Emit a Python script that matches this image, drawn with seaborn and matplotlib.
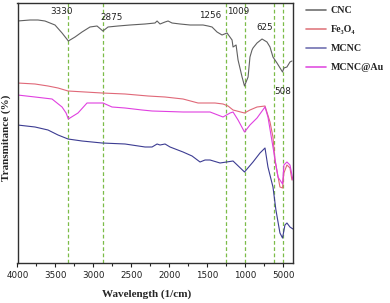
import numpy as np
import pandas as pd
import seaborn as sns
import matplotlib
matplotlib.use("Agg")
import matplotlib.pyplot as plt
from matplotlib.ticker import FixedLocator, MultipleLocator

# FTIR spectra, wavenumber (1/cm) vs transmittance (arbitrary units)
cnc_wn = [4000, 3835, 3730, 3638, 3506, 3413, 3330, 3242, 3150, 3045, 2952, 2875,
          2807, 2675, 2517, 2319, 2188, 2161, 2122, 2056, 2016, 1964, 1858, 1726,
          1555, 1489, 1437, 1371, 1305, 1239, 1173, 1160, 1120, 1094, 1041, 1009,
          962, 937, 910, 897, 844, 778, 713, 673, 634, 581, 508, 490, 450, 410, 384]
cnc_t = [242, 243, 243, 242, 238, 230, 222, 226, 231, 236, 237, 232,
         236, 237, 238, 239, 240, 242, 239, 241, 242, 240, 239, 238,
         238, 237, 236, 231, 228, 230, 223, 216, 218, 203, 186, 177,
         186, 206, 213, 215, 220, 224, 221, 216, 206, 200, 191, 195, 196, 201, 202]

fe_wn = [4000, 3769, 3598, 3466, 3334, 3110, 2886, 2583, 2280, 2056, 1819, 1621,
         1555, 1489, 1398, 1292, 1226, 1160, 1009, 937, 844, 739, 673, 634, 608,
         542, 508, 490, 450, 410, 384]
fe_t = [180, 179, 177, 175, 172, 171, 170, 169, 167, 166, 164, 160,
        160, 160, 160, 159, 157, 153, 150, 153, 156, 157, 141, 126, 103,
        76, 75, 90, 98, 95, 83]

mcnc_wn = [4000, 3769, 3598, 3466, 3334, 3150, 2886, 2583, 2319, 2227, 2161, 2122,
           2056, 1990, 1819, 1700, 1595, 1529, 1463, 1331, 1160, 1009, 897, 805,
           739, 700, 634, 595, 542, 508, 476, 450, 410, 371]
mcnc_t = [138, 136, 133, 128, 124, 122, 120, 119, 116, 116, 119, 118,
          119, 116, 111, 107, 101, 103, 103, 100, 102, 91, 101, 110,
          115, 96, 76, 53, 30, 25, 38, 40, 36, 34]

au_wn = [4000, 3769, 3545, 3413, 3360, 3330, 3203, 3084, 2952, 2873, 2755, 2583,
         2359, 2227, 1819, 1463, 1292, 1199, 1160, 1094, 1009, 937, 844, 739,
         700, 634, 568, 508, 490, 450, 410, 371]
au_t = [168, 166, 164, 156, 150, 144, 150, 160, 160, 160, 156, 155,
        153, 152, 151, 151, 146, 150, 151, 143, 131, 138, 145, 156,
        146, 116, 86, 79, 98, 101, 98, 83]

peaks = [3330, 2875, 1256, 1009, 625, 508]
peak_text_x = [3413, 2767, 1463, 1094, 739, 502]
peak_text_y = [251, 246, 248, 251, 235, 172]

tick_pos = [4000, 3500, 3000, 2500, 2000, 1500, 1000, 500]
tick_labels = ["4000", "3500", "3000", "2500", "2000", "1500", "1000", "5000"]

names = ["CNC", "Fe\u2083O\u2084", "MCNC", "MCNC@Au"]
colors = ["#606060", "#e06878", "#3c3c92", "#e040e0"]
legend_colors = ["#707070", "#e07a80", "#7272b2", "#e050e0"]

frames = []
for name, wn, t in zip(names, [cnc_wn, fe_wn, mcnc_wn, au_wn], [cnc_t, fe_t, mcnc_t, au_t]):
    frames.append(pd.DataFrame({"wn": wn, "t": t, "sample": name}))
df = pd.concat(frames, ignore_index=True)

sns.set_theme(style="white")
serif = ["Liberation Serif", "DejaVu Serif"]

fig = plt.figure(figsize=(3.9, 3.03), dpi=100)
ax = fig.add_axes([17.5 / 390, 40 / 303, 275.5 / 390, 260 / 303])

for p in peaks:
    ax.axvline(p, color="#7cbc48", linestyle=(0, (3, 2)), linewidth=0.9, zorder=1)

sns.lineplot(data=df, x="wn", y="t", hue="sample", palette=dict(zip(names, colors)),
             linewidth=0.8, estimator=None, sort=False, legend=False, ax=ax, zorder=2)

for lab, tx, ty in zip(peaks, peak_text_x, peak_text_y):
    ax.text(tx, ty, str(lab), fontsize=6.3, color="#202020", ha="center", va="center")

ax.set_xlim(4000, 370)
ax.set_ylim(0, 260)
ax.xaxis.set_major_locator(FixedLocator(tick_pos))
ax.set_xticklabels(tick_labels)
ax.xaxis.set_minor_locator(MultipleLocator(250))
ax.set_yticks([])
ax.tick_params(axis="x", which="major", direction="out", length=3, width=0.8,
               labelsize=6.3, pad=3, bottom=True, colors="#202020")
ax.tick_params(axis="x", which="minor", direction="out", length=2, width=0.8, bottom=True)
for s in ax.spines.values():
    s.set_color("#303030")
    s.set_linewidth(1.0)

ax.set_xlabel("Wavelength (1/cm)", family=serif, fontweight="bold", fontsize=8)
ax.xaxis.set_label_coords(0.47, -0.1)
ax.set_ylabel("Transmitance (%)", family=serif, fontweight="bold", fontsize=8)
ax.yaxis.set_label_coords(-0.022, 0.48)

handles = [plt.Line2D([], [], color=c, linewidth=1.2) for c in legend_colors]
ax.legend(handles, names, loc="upper left", bbox_to_anchor=(1.02, 1.015), frameon=False,
          prop={"family": serif, "weight": "bold", "size": 7.2},
          handlelength=2.0, handletextpad=0.5, labelspacing=1.0, borderaxespad=0.3)

fig.savefig("out.png", dpi=100)
